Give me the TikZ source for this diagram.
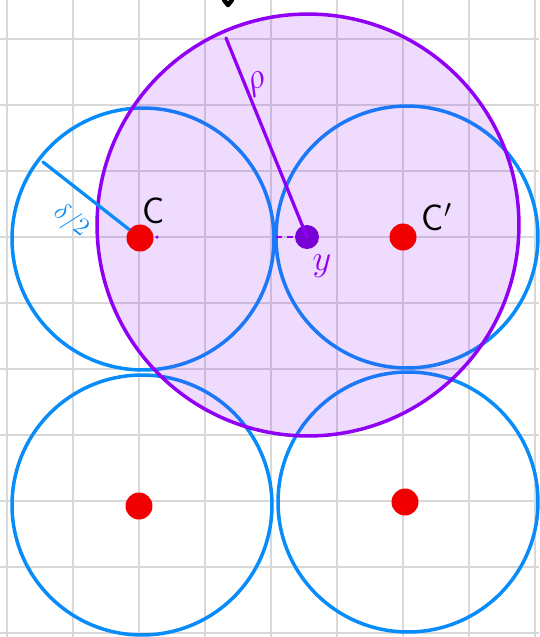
\documentclass[tikz,border=0pt]{standalone}
\definecolor{gridc}{RGB}{216,216,216}
\definecolor{bl}{RGB}{8,140,250}
\definecolor{pu}{RGB}{145,0,245}
\definecolor{pud}{RGB}{120,0,210}
\definecolor{rd}{RGB}{240,0,0}
\begin{document}
\begin{tikzpicture}[x=0.02cm,y=-0.02cm,
  gridline/.style={gridc,line width=0.04cm},
  bcirc/.style={circle,draw=bl,line width=0.07cm,inner sep=0pt,minimum size=5.24cm},
  pcirc/.style={circle,draw=pu,line width=0.07cm,fill=pu,fill opacity=0.14,draw opacity=1,inner sep=0pt,minimum size=8.44cm},
  reddot/.style={circle,fill=rd,inner sep=0pt,minimum size=0.54cm},
  pudot/.style={circle,fill=pud,inner sep=0pt,minimum size=0.48cm},
  lbl/.style={inner sep=0pt,font=\fontsize{21}{24}\selectfont\sffamily},
  radline/.style={line width=0.065cm,line cap=round}]
\useasboundingbox (0,0) rectangle (539,637);
\fill[white] (0,0) rectangle (539,637);
\foreach \x in {7,73,...,535} \draw[gridline] (\x,0) -- (\x,637);
\foreach \y in {39,105,...,633} \draw[gridline] (0,\y) -- (539,\y);
% blue circles
\node[bcirc] (k1) at (143,239) {};
\node[bcirc] (k2) at (407,237) {};
\node[bcirc,minimum size=5.2cm] (k3) at (142,505) {};
\node[bcirc,minimum size=5.2cm] (k4) at (408,502) {};
% purple ball
\node[pcirc] (P) at (308,225) {};
% radius lines
\coordinate (rtop) at (226,38);
\coordinate (dtop) at (43,162);
\coordinate (dl) at (276,237);
\node[pudot] (y) at (307,237) {};
\node[reddot] (c) at (140,238) {};
\node[reddot] (cp) at (403,237) {};
\node[reddot] (c3) at (139,506) {};
\node[reddot] (c4) at (405,502) {};
\draw[pu,radline] (y.center) -- (rtop);
\draw[bl,radline] (c) -- (dtop);
\draw[pu,line width=0.05cm,dash pattern=on 0.12cm off 0.1cm] (dl) -- (y);
\node[circle,fill=pu,inner sep=0pt,minimum size=0.07cm] (tiny) at (157,237) {};
% labels
\node[lbl] (lc) at (154,211) {C};
\node[lbl] (lcp) at (437,217) {C$'$};
\node[inner sep=0pt,text=pu,font=\fontsize{22}{26}\selectfont] (ly) at (322,266) {$y$};
\node[inner sep=0pt,text=pu,font=\fontsize{22}{26}\selectfont,rotate=22] (lr) at (257,84) {$\rho$};
\node[inner sep=0pt,text=bl,font=\fontsize{15}{18}\selectfont,rotate=-38] (ld) at (71,221) {$\delta/2$};
% cut-off black stroke at top
\draw[black,line width=0.09cm,line cap=round,line join=round] (224,0) -- (228,5) -- (232,0);
\end{tikzpicture}
\end{document}
